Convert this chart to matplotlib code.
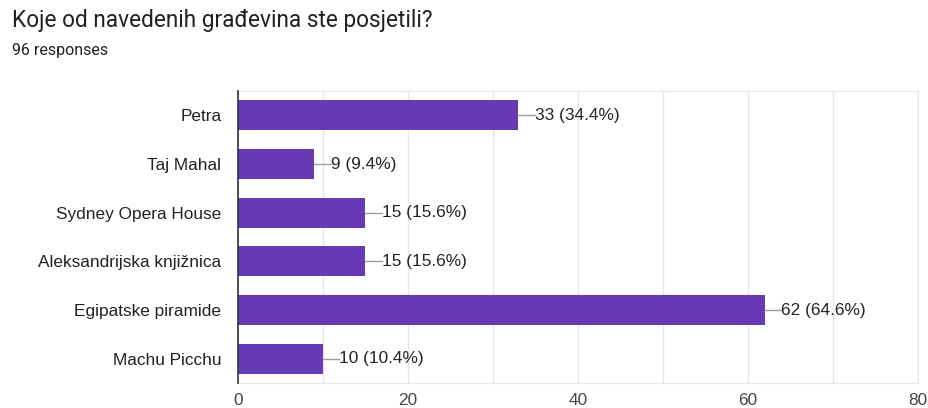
import matplotlib.pyplot as plt

plt.rcParams['font.family'] = ['Liberation Sans', 'DejaVu Sans']

# podaci ankete
places = ["Petra", "Taj Mahal", "Sydney Opera House",
          "Aleksandrijska knjižnica", "Egipatske piramide", "Machu Picchu"]
counts = [33, 9, 15, 15, 62, 10]
total = 96

fig = plt.figure(figsize=(9.29, 4.08), dpi=100)
ax = fig.add_axes([238 / 929, 1 - 383 / 408, 680 / 929, 292 / 408])

ypos = list(range(len(places)))
ax.barh(ypos, counts, height=0.62, color='#673ab7', zorder=3)

# vrijednosti s kratkom linijom do kraja trake
for y, c in zip(ypos, counts):
    ax.plot([c, c + 1.9], [y, y], color='#9e9e9e', lw=1, zorder=3)
    ax.text(c + 1.9, y, f"{c} ({c / total * 100:.1f}%)", va='center', ha='left',
            fontsize=12.4, color='#222222')

ax.set_xlim(0, 80)
ax.set_ylim(len(places) - 0.5, -0.5)
ax.set_yticks(ypos)
ax.set_yticklabels(places, fontsize=12.4, color='#222222')
ax.set_xticks(range(0, 81, 20))
ax.set_xticks(range(0, 81, 10), minor=True)
ax.tick_params(axis='x', which='both', length=0, labelsize=12.4, labelcolor='#444444', pad=7)
ax.tick_params(axis='y', length=0, pad=12)
ax.grid(axis='x', which='both', color='#e6e6e6', lw=1, zorder=0)

for side in ['top', 'right', 'bottom']:
    ax.spines[side].set_color('#e6e6e6')
ax.spines['left'].set_color('#333333')
ax.spines['left'].set_linewidth(1.2)
ax.spines['left'].set_zorder(4)

fig.text(12 / 929, 1 - 20 / 408, "Koje od navedenih građevina ste posjetili?",
         fontsize=16.3, color='#202124', va='center', ha='left', family='Roboto')
fig.text(12 / 929, 1 - 50 / 408, "96 responses", fontsize=11.5, color='#202124',
         va='center', ha='left', family='Roboto')

plt.savefig("out.png", dpi=100)
